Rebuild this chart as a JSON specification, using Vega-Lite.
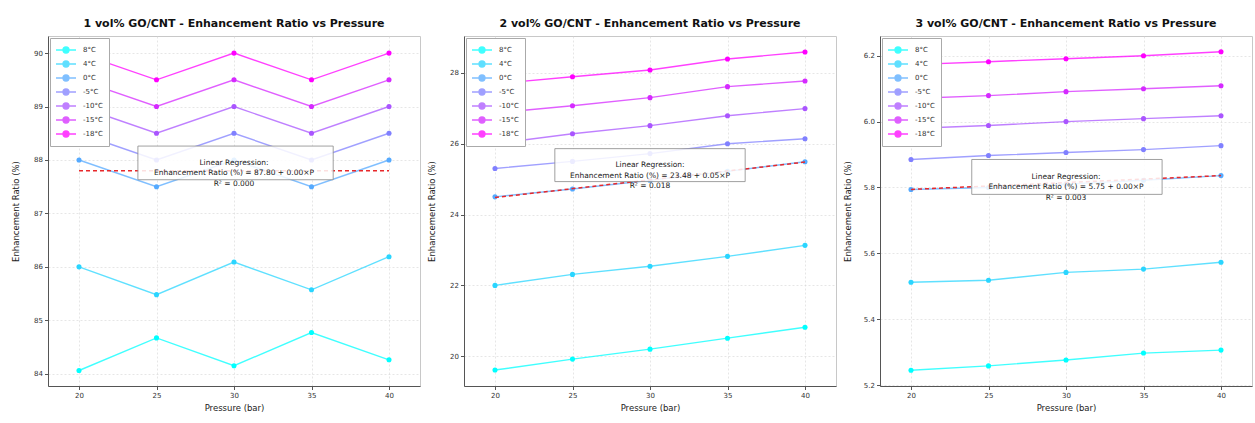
{
  "$schema": "https://vega.github.io/schema/vega-lite/v6.json",
  "padding": {"left": 10, "top": 17, "right": 5, "bottom": 4},
  "background": "white",
  "spacing": 5,
  "datasets": {
    "p1": [
      {"P": 20, "T": "8°C", "v": 84.06}, {"P": 25, "T": "8°C", "v": 84.67}, {"P": 30, "T": "8°C", "v": 84.15}, {"P": 35, "T": "8°C", "v": 84.77}, {"P": 40, "T": "8°C", "v": 84.26},
      {"P": 20, "T": "4°C", "v": 86.0}, {"P": 25, "T": "4°C", "v": 85.48}, {"P": 30, "T": "4°C", "v": 86.09}, {"P": 35, "T": "4°C", "v": 85.57}, {"P": 40, "T": "4°C", "v": 86.19},
      {"P": 20, "T": "0°C", "v": 88.0}, {"P": 25, "T": "0°C", "v": 87.5}, {"P": 30, "T": "0°C", "v": 88.0}, {"P": 35, "T": "0°C", "v": 87.5}, {"P": 40, "T": "0°C", "v": 88.0},
      {"P": 20, "T": "-5°C", "v": 88.5}, {"P": 25, "T": "-5°C", "v": 88.0}, {"P": 30, "T": "-5°C", "v": 88.5}, {"P": 35, "T": "-5°C", "v": 88.0}, {"P": 40, "T": "-5°C", "v": 88.5},
      {"P": 20, "T": "-10°C", "v": 89.0}, {"P": 25, "T": "-10°C", "v": 88.5}, {"P": 30, "T": "-10°C", "v": 89.0}, {"P": 35, "T": "-10°C", "v": 88.5}, {"P": 40, "T": "-10°C", "v": 89.0},
      {"P": 20, "T": "-15°C", "v": 89.5}, {"P": 25, "T": "-15°C", "v": 89.0}, {"P": 30, "T": "-15°C", "v": 89.5}, {"P": 35, "T": "-15°C", "v": 89.0}, {"P": 40, "T": "-15°C", "v": 89.5},
      {"P": 20, "T": "-18°C", "v": 90.0}, {"P": 25, "T": "-18°C", "v": 89.5}, {"P": 30, "T": "-18°C", "v": 90.0}, {"P": 35, "T": "-18°C", "v": 89.5}, {"P": 40, "T": "-18°C", "v": 90.0}
    ],
    "p2": [
      {"P": 20, "T": "8°C", "v": 19.61}, {"P": 25, "T": "8°C", "v": 19.92}, {"P": 30, "T": "8°C", "v": 20.2}, {"P": 35, "T": "8°C", "v": 20.51}, {"P": 40, "T": "8°C", "v": 20.82},
      {"P": 20, "T": "4°C", "v": 22.0}, {"P": 25, "T": "4°C", "v": 22.31}, {"P": 30, "T": "4°C", "v": 22.54}, {"P": 35, "T": "4°C", "v": 22.82}, {"P": 40, "T": "4°C", "v": 23.13},
      {"P": 20, "T": "0°C", "v": 24.5}, {"P": 25, "T": "0°C", "v": 24.72}, {"P": 30, "T": "0°C", "v": 24.97}, {"P": 35, "T": "0°C", "v": 25.22}, {"P": 40, "T": "0°C", "v": 25.49},
      {"P": 20, "T": "-5°C", "v": 25.3}, {"P": 25, "T": "-5°C", "v": 25.5}, {"P": 30, "T": "-5°C", "v": 25.72}, {"P": 35, "T": "-5°C", "v": 26.0}, {"P": 40, "T": "-5°C", "v": 26.14},
      {"P": 20, "T": "-10°C", "v": 26.0}, {"P": 25, "T": "-10°C", "v": 26.28}, {"P": 30, "T": "-10°C", "v": 26.51}, {"P": 35, "T": "-10°C", "v": 26.79}, {"P": 40, "T": "-10°C", "v": 26.99},
      {"P": 20, "T": "-15°C", "v": 26.87}, {"P": 25, "T": "-15°C", "v": 27.07}, {"P": 30, "T": "-15°C", "v": 27.3}, {"P": 35, "T": "-15°C", "v": 27.61}, {"P": 40, "T": "-15°C", "v": 27.77},
      {"P": 20, "T": "-18°C", "v": 27.69}, {"P": 25, "T": "-18°C", "v": 27.89}, {"P": 30, "T": "-18°C", "v": 28.08}, {"P": 35, "T": "-18°C", "v": 28.39}, {"P": 40, "T": "-18°C", "v": 28.59}
    ],
    "p3": [
      {"P": 20, "T": "8°C", "v": 5.245}, {"P": 25, "T": "8°C", "v": 5.258}, {"P": 30, "T": "8°C", "v": 5.276}, {"P": 35, "T": "8°C", "v": 5.297}, {"P": 40, "T": "8°C", "v": 5.306},
      {"P": 20, "T": "4°C", "v": 5.512}, {"P": 25, "T": "4°C", "v": 5.518}, {"P": 30, "T": "4°C", "v": 5.542}, {"P": 35, "T": "4°C", "v": 5.552}, {"P": 40, "T": "4°C", "v": 5.573},
      {"P": 20, "T": "0°C", "v": 5.794}, {"P": 25, "T": "0°C", "v": 5.8}, {"P": 30, "T": "0°C", "v": 5.81}, {"P": 35, "T": "0°C", "v": 5.822}, {"P": 40, "T": "0°C", "v": 5.836},
      {"P": 20, "T": "-5°C", "v": 5.885}, {"P": 25, "T": "-5°C", "v": 5.897}, {"P": 30, "T": "-5°C", "v": 5.906}, {"P": 35, "T": "-5°C", "v": 5.915}, {"P": 40, "T": "-5°C", "v": 5.927},
      {"P": 20, "T": "-10°C", "v": 5.979}, {"P": 25, "T": "-10°C", "v": 5.988}, {"P": 30, "T": "-10°C", "v": 6.0}, {"P": 35, "T": "-10°C", "v": 6.009}, {"P": 40, "T": "-10°C", "v": 6.018},
      {"P": 20, "T": "-15°C", "v": 6.07}, {"P": 25, "T": "-15°C", "v": 6.079}, {"P": 30, "T": "-15°C", "v": 6.091}, {"P": 35, "T": "-15°C", "v": 6.1}, {"P": 40, "T": "-15°C", "v": 6.109},
      {"P": 20, "T": "-18°C", "v": 6.173}, {"P": 25, "T": "-18°C", "v": 6.182}, {"P": 30, "T": "-18°C", "v": 6.191}, {"P": 35, "T": "-18°C", "v": 6.2}, {"P": 40, "T": "-18°C", "v": 6.212}
    ],
    "r1": [{"P": 20, "v": 87.8}, {"P": 40, "v": 87.8}],
    "r2": [{"P": 20, "v": 24.48}, {"P": 40, "v": 25.48}],
    "r3": [{"P": 20, "v": 5.794}, {"P": 40, "v": 5.836}],
    "b1": [{"x1": 23.8, "x2": 36.4, "y1": 88.26, "y2": 87.63, "xc": 30, "yc": 87.945, "label": "Linear Regression:\nEnhancement Ratio (%) = 87.80 + 0.00×P\nR² = 0.000"}],
    "b2": [{"x1": 23.86, "x2": 36.14, "y1": 25.86, "y2": 24.93, "xc": 30, "yc": 25.395, "label": "Linear Regression:\nEnhancement Ratio (%) = 23.48 + 0.05×P\nR² = 0.018"}],
    "b3": [{"x1": 23.92, "x2": 36.2, "y1": 5.885, "y2": 5.779, "xc": 30, "yc": 5.832, "label": "Linear Regression:\nEnhancement Ratio (%) = 5.75 + 0.00×P\nR² = 0.003"}]
  },
  "config": {
    "font": "DejaVu Sans",
    "view": {"stroke": "#c8c8c8", "strokeWidth": 1},
    "axis": {
      "labelFont": "DejaVu Sans", "titleFont": "DejaVu Sans",
      "labelFontSize": 7, "titleFontSize": 8.5, "titleFontWeight": "normal",
      "labelColor": "#333", "titleColor": "#222",
      "domainColor": "#555", "tickColor": "#555", "tickSize": 3.5,
      "gridColor": "#d6d6d6", "gridDash": [2, 2], "gridOpacity": 0.6,
      "labelPadding": 2
    },
    "axisY": {"minExtent": 24, "maxExtent": 24, "titlePadding": 4},
    "axisX": {"titlePadding": 5},
    "title": {"font": "DejaVu Sans", "fontSize": 11, "fontWeight": "bold", "color": "#111", "offset": 7},
    "legend": {
      "orient": "top-left", "offset": 2, "fillColor": "white", "strokeColor": "#aaaaaa",
      "padding": 6, "labelFontSize": 7, "labelFont": "DejaVu Sans", "labelColor": "#333",
      "symbolSize": 100, "symbolOffset": 4, "labelOffset": 11, "rowPadding": 2,
      "symbolType": "M-2,0H2M-0.6,0A0.6,0.6,0,1,0,0.6,0A0.6,0.6,0,1,0,-0.6,0Z",
      "symbolStrokeWidth": 1.3, "title": null
    }
  },
  "resolve": {"scale": {"color": "shared"}, "legend": {"color": "independent"}},
  "hconcat": [
    {
      "width": 372, "height": 350,
      "title": "1 vol% GO/CNT - Enhancement Ratio vs Pressure",
      "layer": [
        {"data": {"name": "p1"}, "mark": {"type": "line", "strokeWidth": 1.4, "opacity": 0.75},
         "encoding": {
           "x": {"field": "P", "type": "quantitative", "scale": {"domain": [18, 42], "nice": false}, "axis": {"values": [20, 25, 30, 35, 40], "title": "Pressure (bar)"}},
           "y": {"field": "v", "type": "quantitative", "scale": {"domain": [83.77, 90.32], "nice": false, "zero": false}, "axis": {"values": [84, 85, 86, 87, 88, 89, 90], "title": "Enhancement Ratio (%)"}},
           "color": {"field": "T", "type": "nominal", "sort": null, "scale": {"domain": ["8°C", "4°C", "0°C", "-5°C", "-10°C", "-15°C", "-18°C"], "range": ["#00ffff", "#2ad5ff", "#55aaff", "#8080ff", "#aa55ff", "#d52aff", "#ff00ff"]},
             "legend": {"encode": {"symbols": {"update": {"fill": {"scale": "color", "field": "value"}, "stroke": {"scale": "color", "field": "value"}}}}}}
         }},
        {"data": {"name": "p1"}, "mark": {"type": "point", "filled": true, "size": 26, "opacity": 1},
         "encoding": {"x": {"field": "P", "type": "quantitative"}, "y": {"field": "v", "type": "quantitative"}, "color": {"field": "T", "type": "nominal"}}},
        {"data": {"name": "r1"}, "mark": {"type": "line", "color": "#e8282b", "strokeDash": [4, 3], "strokeWidth": 1.5},
         "encoding": {"x": {"field": "P", "type": "quantitative"}, "y": {"field": "v", "type": "quantitative"}}},
        {"data": {"name": "b1"}, "mark": {"type": "rect", "fill": "white", "fillOpacity": 0.85, "stroke": "#888", "strokeWidth": 0.8},
         "encoding": {"x": {"field": "x1", "type": "quantitative"}, "x2": {"field": "x2"}, "y": {"field": "y1", "type": "quantitative"}, "y2": {"field": "y2"}}},
        {"data": {"name": "b1"}, "mark": {"type": "text", "fontSize": 7.5, "lineBreak": "\n", "lineHeight": 10.5, "align": "center", "baseline": "middle", "color": "#222"},
         "encoding": {"x": {"field": "xc", "type": "quantitative"}, "y": {"field": "yc", "type": "quantitative"}, "text": {"field": "label"}}}
      ]
    },
    {
      "width": 372, "height": 350,
      "title": "2 vol% GO/CNT - Enhancement Ratio vs Pressure",
      "layer": [
        {"data": {"name": "p2"}, "mark": {"type": "line", "strokeWidth": 1.4, "opacity": 0.75},
         "encoding": {
           "x": {"field": "P", "type": "quantitative", "scale": {"domain": [18, 42], "nice": false}, "axis": {"values": [20, 25, 30, 35, 40], "title": "Pressure (bar)"}},
           "y": {"field": "v", "type": "quantitative", "scale": {"domain": [19.16, 29.04], "nice": false, "zero": false}, "axis": {"values": [20, 22, 24, 26, 28], "title": "Enhancement Ratio (%)"}},
           "color": {"field": "T", "type": "nominal", "sort": null,
             "legend": {"encode": {"symbols": {"update": {"fill": {"scale": "color", "field": "value"}, "stroke": {"scale": "color", "field": "value"}}}}}}
         }},
        {"data": {"name": "p2"}, "mark": {"type": "point", "filled": true, "size": 26, "opacity": 1},
         "encoding": {"x": {"field": "P", "type": "quantitative"}, "y": {"field": "v", "type": "quantitative"}, "color": {"field": "T", "type": "nominal"}}},
        {"data": {"name": "r2"}, "mark": {"type": "line", "color": "#e8282b", "strokeDash": [4, 3], "strokeWidth": 1.5},
         "encoding": {"x": {"field": "P", "type": "quantitative"}, "y": {"field": "v", "type": "quantitative"}}},
        {"data": {"name": "b2"}, "mark": {"type": "rect", "fill": "white", "fillOpacity": 0.85, "stroke": "#888", "strokeWidth": 0.8},
         "encoding": {"x": {"field": "x1", "type": "quantitative"}, "x2": {"field": "x2"}, "y": {"field": "y1", "type": "quantitative"}, "y2": {"field": "y2"}}},
        {"data": {"name": "b2"}, "mark": {"type": "text", "fontSize": 7.5, "lineBreak": "\n", "lineHeight": 10.5, "align": "center", "baseline": "middle", "color": "#222"},
         "encoding": {"x": {"field": "xc", "type": "quantitative"}, "y": {"field": "yc", "type": "quantitative"}, "text": {"field": "label"}}}
      ]
    },
    {
      "width": 372, "height": 350,
      "title": "3 vol% GO/CNT - Enhancement Ratio vs Pressure",
      "layer": [
        {"data": {"name": "p3"}, "mark": {"type": "line", "strokeWidth": 1.4, "opacity": 0.75},
         "encoding": {
           "x": {"field": "P", "type": "quantitative", "scale": {"domain": [18, 42], "nice": false}, "axis": {"values": [20, 25, 30, 35, 40], "title": "Pressure (bar)"}},
           "y": {"field": "v", "type": "quantitative", "scale": {"domain": [5.197, 6.26], "nice": false, "zero": false}, "axis": {"values": [5.2, 5.4, 5.6, 5.8, 6.0, 6.2], "format": ".1f", "title": "Enhancement Ratio (%)"}},
           "color": {"field": "T", "type": "nominal", "sort": null,
             "legend": {"encode": {"symbols": {"update": {"fill": {"scale": "color", "field": "value"}, "stroke": {"scale": "color", "field": "value"}}}}}}
         }},
        {"data": {"name": "p3"}, "mark": {"type": "point", "filled": true, "size": 26, "opacity": 1},
         "encoding": {"x": {"field": "P", "type": "quantitative"}, "y": {"field": "v", "type": "quantitative"}, "color": {"field": "T", "type": "nominal"}}},
        {"data": {"name": "r3"}, "mark": {"type": "line", "color": "#e8282b", "strokeDash": [4, 3], "strokeWidth": 1.5},
         "encoding": {"x": {"field": "P", "type": "quantitative"}, "y": {"field": "v", "type": "quantitative"}}},
        {"data": {"name": "b3"}, "mark": {"type": "rect", "fill": "white", "fillOpacity": 0.85, "stroke": "#888", "strokeWidth": 0.8},
         "encoding": {"x": {"field": "x1", "type": "quantitative"}, "x2": {"field": "x2"}, "y": {"field": "y1", "type": "quantitative"}, "y2": {"field": "y2"}}},
        {"data": {"name": "b3"}, "mark": {"type": "text", "fontSize": 7.5, "lineBreak": "\n", "lineHeight": 10.5, "align": "center", "baseline": "middle", "color": "#222"},
         "encoding": {"x": {"field": "xc", "type": "quantitative"}, "y": {"field": "yc", "type": "quantitative"}, "text": {"field": "label"}}}
      ]
    }
  ]
}
